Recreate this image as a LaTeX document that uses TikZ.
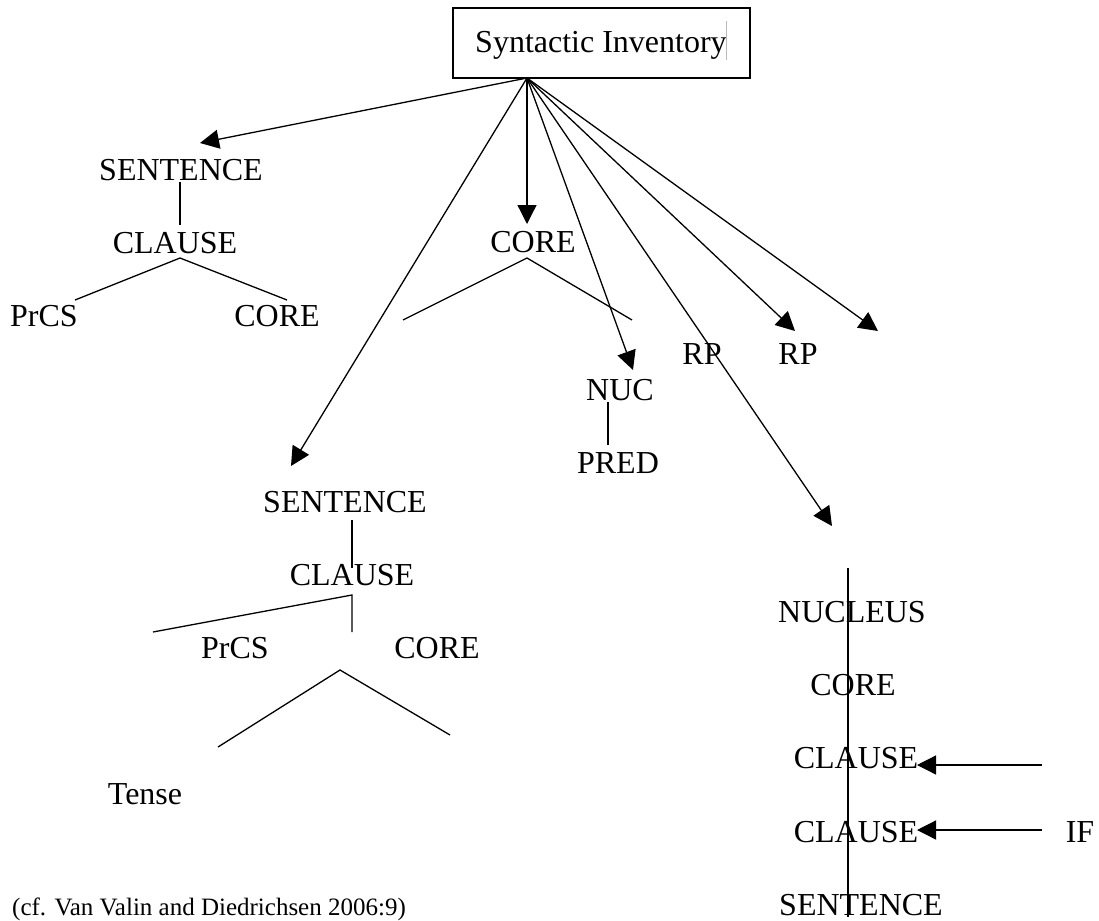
\documentclass[tikz,border=0pt]{standalone}
\usepackage{fontspec}
\setmainfont{Liberation Serif}
\usetikzlibrary{arrows.meta}

\begin{document}
\begin{tikzpicture}[x=1pt,y=-1pt,
  lbl/.style={inner sep=0pt, anchor=base, font=\fontsize{32}{38}\selectfont},
  edge/.style={line width=1.3pt},
  arr/.style={line width=1.3pt, -{Triangle[length=19pt,width=19pt]}},
  note/.style={inner sep=0pt, anchor=base west, font=\fontsize{25}{30}\selectfont}]
\useasboundingbox (0,0) rectangle (1099,920);

% title box
\draw[line width=1.8pt] (453,8) rectangle (750,78);
\node[lbl, anchor=base west] (title) at (475,53) {Syntactic Inventory};
\coordinate (caretTop) at (726,21);
\coordinate (caretBot) at (726,60);
\draw[gray!55, line width=0.6pt] (caretTop) -- (caretBot);
\coordinate (o) at (527,78);

% left tree
\node[lbl] (s1) at (181,180) {SENTENCE};
\node[lbl] (c1) at (175,253) {CLAUSE};
\node[lbl] (prcs1) at (44,326) {PrCS};
\node[lbl] (core1) at (277,326) {CORE};
\coordinate (s1b) at (180,182);
\coordinate (c1t) at (180,225);
\coordinate (c1b) at (180,258);
\coordinate (prcs1t) at (75,300);
\coordinate (core1t) at (287,300);
\draw[edge] (s1b) -- (c1t);
\draw[edge] (prcs1t) -- (c1b) -- (core1t);

% middle core
\node[lbl] (core2) at (533,252) {CORE};
\coordinate (core2b) at (527,258);
\coordinate (core2l) at (403,320);
\coordinate (core2r) at (632,320);
\draw[edge] (core2l) -- (core2b) -- (core2r);
\node[lbl] (nuc) at (620,400) {NUC};
\node[lbl] (pred) at (618,473) {PRED};
\coordinate (nucb) at (608,402);
\coordinate (predt) at (608,445);
\draw[edge] (nucb) -- (predt);
\node[lbl] (rp1) at (702,364) {RP};
\node[lbl] (rp2) at (798,364) {RP};

% arrow ends
\coordinate (t1) at (200,143);
\coordinate (t2) at (291,466);
\coordinate (t3) at (527,224);
\coordinate (t4) at (633,370);
\coordinate (t5) at (832,526);
\coordinate (t6) at (795,331);
\coordinate (t7) at (878,331);
\foreach \t in {t1,t2,t3,t4,t5,t6,t7} \draw[arr] (o) -- (\t);

% lower left tree
\node[lbl] (s2) at (345,512) {SENTENCE};
\node[lbl] (c2) at (352,585) {CLAUSE};
\node[lbl] (prcs2) at (235,658) {PrCS};
\node[lbl] (core3) at (437,658) {CORE};
\node[lbl] (tense) at (145,804) {Tense};
\coordinate (s2b) at (352,520);
\coordinate (c2t) at (352,568);
\coordinate (c2b) at (352,595);
\coordinate (c2l) at (153,632);
\coordinate (c2m) at (352,632);
\draw[edge] (s2b) -- (c2t);
\draw[edge] (c2l) -- (c2b) -- (c2m);
\coordinate (triA) at (340,670);
\coordinate (triL) at (218,747);
\coordinate (triR) at (450,735);
\draw[edge] (triL) -- (triA) -- (triR);

% right column
\node[lbl] (nucleus) at (852,622) {NUCLEUS};
\node[lbl] (core4) at (853,695) {CORE};
\node[lbl] (c3) at (856,768) {CLAUSE};
\node[lbl] (c4) at (856,842) {CLAUSE};
\node[lbl] (s3) at (861,915) {SENTENCE};
\node[lbl] (if) at (1080,842) {IF};
\coordinate (spineTop) at (848,568);
\coordinate (spineBot) at (848,917);
\draw[edge] (spineTop) -- (spineBot);
\coordinate (a1s) at (1042,765);
\coordinate (a1e) at (917,765);
\coordinate (a2s) at (1042,830);
\coordinate (a2e) at (917,830);
\draw[arr] (a1s) -- (a1e);
\draw[arr] (a2s) -- (a2e);

% source note
\node[note] (cite) at (12,915) {(cf. Van Valin and Diedrichsen 2006:9)};
\end{tikzpicture}
\end{document}
